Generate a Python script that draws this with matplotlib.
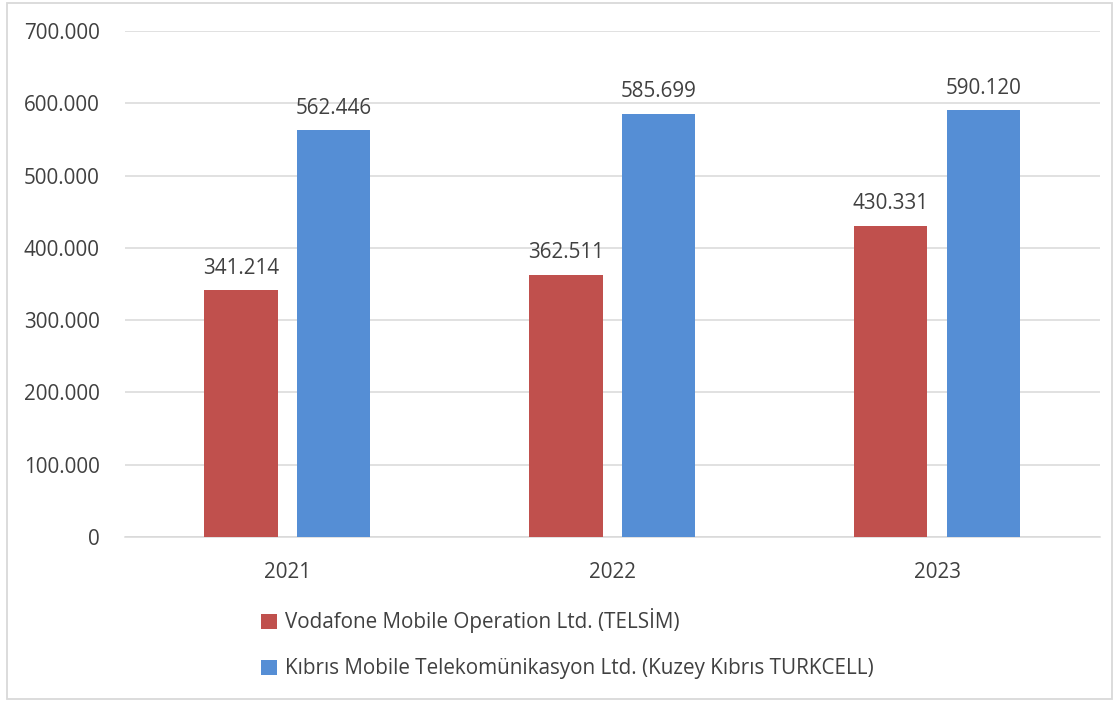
import matplotlib
matplotlib.use('Agg')
import matplotlib.pyplot as plt
import matplotlib.patches as patches
import numpy as np

years = ['2021', '2022', '2023']
vodafone = [341214, 362511, 430331]
turkcell = [562446, 585699, 590120]
labels = ['Vodafone Mobile Operation Ltd. (TELSİM)',
          'Kıbrıs Mobile Telekomünikasyon Ltd. (Kuzey Kıbrıs TURKCELL)']
colors = ['#C0504D', '#558ED5']

plt.rcParams['font.family'] = ['Open Sans', 'DejaVu Sans']
txt = '#404040'
fs = 14.9

def fmt(v):
    return f'{int(v):,}'.replace(',', '.')

fig = plt.figure(figsize=(11.2, 7.02), dpi=100)
ax = fig.add_axes([0.1116, 0.235, 0.8704, 0.7208])

x = np.arange(len(years))
w = 0.225
off = 0.143
b1 = ax.bar(x - off, vodafone, w, color=colors[0], label=labels[0], zorder=3)
b2 = ax.bar(x + off, turkcell, w, color=colors[1], label=labels[1], zorder=3)

for bars, vals in [(b1, vodafone), (b2, turkcell)]:
    for b, v in zip(bars, vals):
        ax.text(b.get_x() + b.get_width() / 2, v + 16000, fmt(v),
                ha='center', va='bottom', fontsize=fs, color=txt)

ax.set_xlim(-0.5, 2.5)
ax.set_ylim(0, 700000)
ax.set_yticks(np.arange(0, 700001, 100000))
ax.set_yticklabels([fmt(v) for v in np.arange(0, 700001, 100000)])
ax.set_xticks(x)
ax.set_xticklabels(years)
ax.tick_params(axis='both', length=0, labelsize=fs, labelcolor=txt)
ax.tick_params(axis='y', pad=18)
ax.tick_params(axis='x', pad=18)
ax.yaxis.grid(True, color='#d9d9d9', linewidth=1.1, zorder=0)
for s in ['top', 'right', 'left']:
    ax.spines[s].set_visible(False)
ax.spines['bottom'].set_color('#d9d9d9')
ax.spines['bottom'].set_linewidth(1.1)

fig.legend(handles=[b1, b2], loc='upper left', bbox_to_anchor=(0.226, 0.145),
           frameon=False, fontsize=fs, labelcolor=txt, handlelength=0.75,
           handleheight=0.75, handletextpad=0.4, labelspacing=1.2,
           borderaxespad=0)

fig.patches.append(patches.Rectangle((0.006, 0.004), 0.987, 0.992,
                                     transform=fig.transFigure, fill=False,
                                     edgecolor='#d9d9d9', linewidth=1.3))

fig.savefig('out.png', dpi=100)
